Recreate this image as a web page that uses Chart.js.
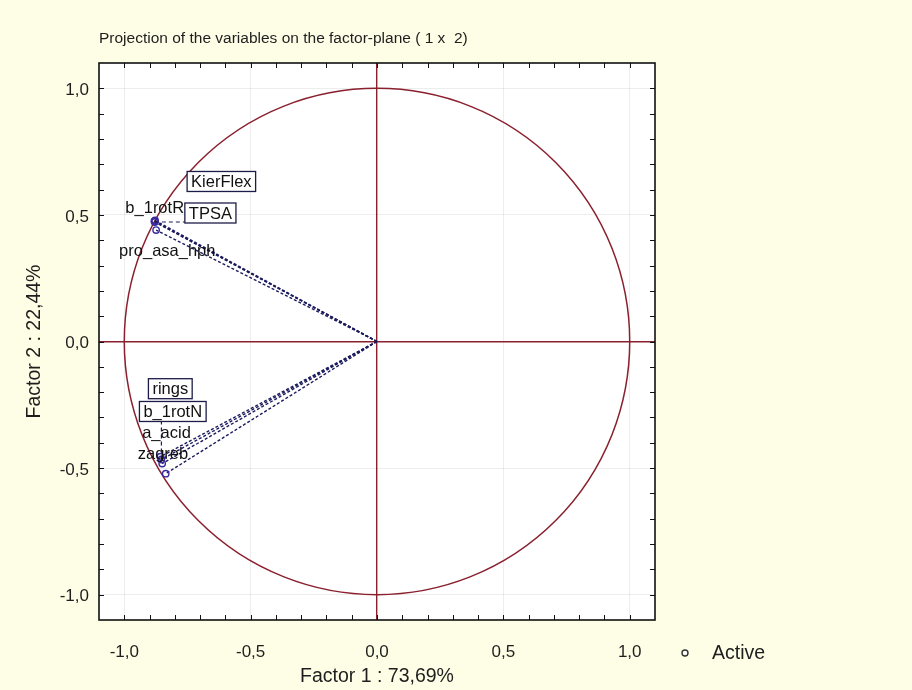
<!DOCTYPE html>
<html>
<head>
<meta charset="utf-8">
<script src="https://cdn.jsdelivr.net/npm/chart.js@4.4.1/dist/chart.umd.min.js"></script>
<style>
  html, body { margin: 0; padding: 0; background: #fefde6; }
  #wrap { width: 912px; height: 690px; }
</style>
</head>
<body>
<div id="wrap"><canvas id="plane" width="912" height="690"></canvas></div>
<script>
// Variable coordinates on the first two factors
const variableNames = ['KierFlex', 'b_1rotR', 'TPSA', 'pro_asa_hph', 'rings', 'b_1rotN', 'a_acid', 'zagreb'];
const factor1 = [-0.878, -0.881, -0.879, -0.874, -0.857, -0.853, -0.850, -0.836];
const factor2 = [0.478, 0.475, 0.472, 0.440, -0.455, -0.466, -0.482, -0.522];

// Labelled axis ticks
const axisTickValues = [-1.0, -0.5, 0.0, 0.5, 1.0];
const axisTickLabels = ['-1,0', '-0,5', '0,0', '0,5', '1,0'];

const chartTitle = 'Projection of the variables on the factor-plane ( 1 x  2)';
const factor1Title = 'Factor 1 : 73,69%';
const factor2Title = 'Factor 2 : 22,44%';
const legendLabel = 'Active';

// Label placement (pixel offsets from each point)
const labelLayout = [
  { dx: 36, dy: -39, box: true },
  { dx: -29, dy: -14 },
  { dx: 34, dy: -9, box: true, leader: true },
  { dx: -37, dy: 20 },
  { dx: -8, dy: -68, box: true },
  { dx: -18, dy: -48, box: true, leader: true },
  { dx: -20, dy: -31 },
  { dx: -28, dy: -20 }
];

const FONT = "'Liberation Sans', Arial, Helvetica, sans-serif";
const TEXT = '#1e1e1e';
const MAROON = '#8a1f2d';
const NAVY = '#1b1b5e';
const POINT = '#3a2aa0';

function tickIndex(v) {
  return axisTickValues.findIndex(t => Math.abs(t - v) < 1e-6);
}

function gridColor(ctx) {
  const v = ctx.tick ? ctx.tick.value : NaN;
  if (Math.abs(v) < 1e-6) return MAROON;
  if (tickIndex(v) >= 0) return 'rgba(0,0,0,0.07)';
  return 'rgba(0,0,0,0)';
}
function gridWidth(ctx) {
  const v = ctx.tick ? ctx.tick.value : NaN;
  return Math.abs(v) < 1e-6 ? 1.4 : 1;
}
function tickLabel(value) {
  const i = tickIndex(value);
  return i >= 0 ? axisTickLabels[i] : '';
}

const pointData = variableNames.map((n, i) => ({ x: factor1[i], y: factor2[i] }));

const vectorSets = variableNames.map((n, i) => ({
  type: 'line',
  label: n,
  data: [{ x: 0, y: 0 }, { x: factor1[i], y: factor2[i] }],
  borderColor: NAVY,
  borderWidth: 1.4,
  borderDash: [3, 2],
  pointRadius: 0,
  fill: false,
  tension: 0
}));

const factorPlanePlugin = {
  id: 'factorPlane',
  beforeDraw(chart) {
    const { ctx, chartArea: a } = chart;
    ctx.save();
    ctx.fillStyle = '#fefde6';
    ctx.fillRect(0, 0, chart.width, chart.height);
    ctx.fillStyle = '#ffffff';
    ctx.fillRect(a.left, a.top, a.right - a.left, a.bottom - a.top);
    ctx.restore();
  },
  beforeDatasetsDraw(chart) {
    // unit correlation circle
    const { ctx, scales: { x, y } } = chart;
    const cx = x.getPixelForValue(0), cy = y.getPixelForValue(0);
    const rx = x.getPixelForValue(1) - cx, ry = cy - y.getPixelForValue(1);
    ctx.save();
    ctx.strokeStyle = MAROON;
    ctx.lineWidth = 1.5;
    ctx.beginPath();
    ctx.ellipse(cx, cy, rx, ry, 0, 0, Math.PI * 2);
    ctx.stroke();
    ctx.restore();
  },
  afterDatasetsDraw(chart) {
    const { ctx, scales: { x, y } } = chart;
    ctx.save();
    ctx.font = '16.5px ' + FONT;
    ctx.textBaseline = 'middle';
    variableNames.forEach((name, i) => {
      const px = x.getPixelForValue(factor1[i]);
      const py = y.getPixelForValue(factor2[i]);
      const L = labelLayout[i];
      const tx = px + L.dx, ty = py + L.dy;
      const w = ctx.measureText(name).width;
      if (L.box) {
        const bx = tx - 4, by = ty - 10, bw = w + 8, bh = 20;
        if (L.leader) {
          const nx = Math.min(Math.max(px, bx), bx + bw);
          const ny = Math.min(Math.max(py, by), by + bh);
          ctx.setLineDash([4, 3]);
          ctx.strokeStyle = NAVY;
          ctx.lineWidth = 1.2;
          ctx.beginPath();
          ctx.moveTo(px, py);
          ctx.lineTo(nx, ny);
          ctx.stroke();
          ctx.setLineDash([]);
        }
        ctx.fillStyle = '#ffffff';
        ctx.fillRect(bx, by, bw, bh);
        ctx.strokeStyle = '#1c1c48';
        ctx.lineWidth = 1.3;
        ctx.strokeRect(bx, by, bw, bh);
      }
      ctx.fillStyle = '#111111';
      ctx.fillText(name, tx, ty + 1);
    });
    ctx.restore();
  },
  afterDraw(chart) {
    const { ctx, chartArea: a, scales: { x, y } } = chart;
    ctx.save();
    // inward tick marks on all four sides
    ctx.strokeStyle = '#111111';
    ctx.lineWidth = 1;
    ctx.beginPath();
    x.ticks.forEach(t => {
      if (Math.abs(t.value) > 1.05) return;
      const px = Math.round(x.getPixelForValue(t.value)) + 0.5;
      ctx.moveTo(px, a.bottom); ctx.lineTo(px, a.bottom - 5);
      ctx.moveTo(px, a.top); ctx.lineTo(px, a.top + 5);
    });
    y.ticks.forEach(t => {
      if (Math.abs(t.value) > 1.05) return;
      const py = Math.round(y.getPixelForValue(t.value)) + 0.5;
      ctx.moveTo(a.left, py); ctx.lineTo(a.left + 5, py);
      ctx.moveTo(a.right, py); ctx.lineTo(a.right - 5, py);
    });
    ctx.stroke();
    // plot frame
    ctx.lineWidth = 1.6;
    ctx.strokeRect(a.left, a.top, a.right - a.left, a.bottom - a.top);
    // legend
    const lx = a.right + 30, ly = a.bottom + 33;
    ctx.beginPath();
    ctx.arc(lx, ly, 3, 0, Math.PI * 2);
    ctx.fillStyle = '#ffffff';
    ctx.fill();
    ctx.strokeStyle = '#333333';
    ctx.lineWidth = 1.4;
    ctx.stroke();
    ctx.fillStyle = TEXT;
    ctx.font = '19.5px ' + FONT;
    ctx.textBaseline = 'middle';
    ctx.fillText(legendLabel, lx + 27, ly + 1);
    ctx.restore();
  }
};

new Chart(document.getElementById('plane'), {
  type: 'scatter',
  data: {
    datasets: [
      {
        label: legendLabel,
        data: pointData,
        pointStyle: 'circle',
        pointRadius: 3.2,
        borderWidth: 1.4,
        borderColor: POINT,
        backgroundColor: 'rgba(255,255,255,0)'
      },
      ...vectorSets
    ]
  },
  options: {
    responsive: false,
    animation: false,
    devicePixelRatio: 1,
    layout: { padding: { left: 0, top: 0, right: 257, bottom: 0 } },
    plugins: {
      legend: { display: false },
      tooltip: { enabled: false },
      title: {
        display: true,
        text: chartTitle,
        align: 'start',
        fullSize: false,
        color: TEXT,
        font: { family: FONT, size: 15.5, weight: 'normal' },
        padding: { top: 29, bottom: 15.4 }
      }
    },
    scales: {
      x: {
        type: 'linear',
        position: 'bottom',
        min: -1.1,
        max: 1.1,
        border: { display: false },
        grid: { drawTicks: false, color: gridColor, lineWidth: gridWidth },
        ticks: {
          stepSize: 0.1,
          autoSkip: false,
          maxRotation: 0,
          padding: 22,
          color: TEXT,
          font: { family: FONT, size: 17 },
          callback: tickLabel
        },
        title: {
          display: true,
          text: factor1Title,
          color: TEXT,
          font: { family: FONT, size: 19.5 },
          padding: { top: 0, bottom: 2 }
        },
        afterFit(scale) { scale.height = 70; }
      },
      y: {
        type: 'linear',
        position: 'left',
        min: -1.1,
        max: 1.1,
        border: { display: false },
        grid: { drawTicks: false, color: gridColor, lineWidth: gridWidth },
        ticks: {
          stepSize: 0.1,
          autoSkip: false,
          padding: 10,
          labelOffset: 2,
          color: TEXT,
          font: { family: FONT, size: 17 },
          callback: tickLabel
        },
        title: {
          display: true,
          text: factor2Title,
          color: TEXT,
          font: { family: FONT, size: 19.5 },
          padding: { top: 23, bottom: 0 }
        },
        afterFit(scale) { scale.width = 99; }
      }
    }
  },
  plugins: [factorPlanePlugin]
});
</script>
</body>
</html>
